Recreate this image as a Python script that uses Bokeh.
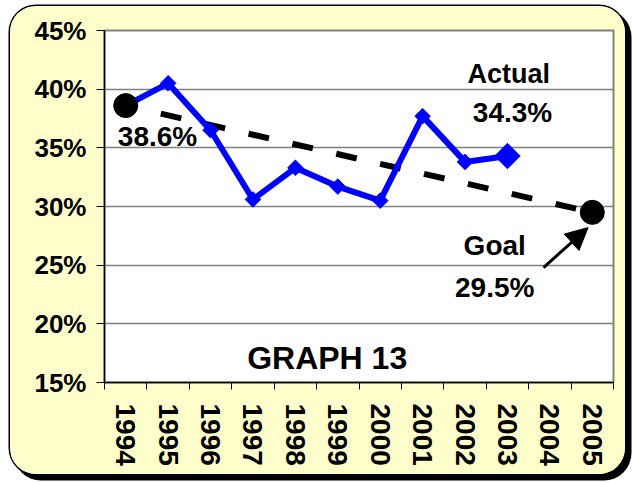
import math
from bokeh.plotting import figure
from bokeh.models import Range1d, FixedTicker, Arrow, NormalHead, ColumnDataSource
from bokeh.core.properties import value
from bokeh.embed import file_html
from bokeh.resources import INLINE

# ---- data ----
years = [1994, 1995, 1996, 1997, 1998, 1999, 2000, 2001, 2002, 2003]
actual = [38.6, 40.5, 36.5, 30.6, 33.3, 31.7, 30.5, 37.7, 33.8, 34.3]
axis_years = [1994, 1995, 1996, 1997, 1998, 1999, 2000, 2001, 2002, 2003, 2004, 2005]
y_ticks = [15, 20, 25, 30, 35, 40, 45]
y_tick_labels = ["15%", "20%", "25%", "30%", "35%", "40%", "45%"]
start_year = 1994
start_value = 38.6
goal_year = 2005
goal_value = 29.5
title_text = "GRAPH 13"

FONT = "Liberation Sans"

p = figure(width=615, height=468, output_backend="svg", toolbar_location=None,
           x_range=Range1d(axis_years[0] - 0.5, axis_years[-1] + 0.5),
           y_range=Range1d(y_ticks[0], y_ticks[-1]),
           min_border_left=94, min_border_right=12, min_border_top=24,
           min_border_bottom=92)
p.margin = (6, 0, 0, 10)
p.styles = {
    "border-radius": "26px",
    "overflow": "hidden",
    "box-shadow": "0 0 0 1.5px black, 5px 5px 0 1.5px black",
}
p.border_fill_color = "#FFFFCC"
p.background_fill_color = "white"
p.outline_line_color = "#808080"
p.outline_line_width = 2

# grid
p.xgrid.visible = False
p.ygrid.ticker = FixedTicker(ticks=y_ticks)
p.ygrid.grid_line_color = "#808080"
p.ygrid.grid_line_width = 1.5

# y axis
ya = p.yaxis[0]
ya.ticker = FixedTicker(ticks=y_ticks)
ya.major_label_overrides = {t: l for t, l in zip(y_ticks, y_tick_labels)}
ya.major_label_text_font = FONT
ya.major_label_text_font_style = "bold"
ya.major_label_text_font_size = "26px"
ya.major_label_text_color = "black"
ya.major_tick_out = 8
ya.major_tick_in = 0
ya.major_tick_line_color = "black"
ya.minor_tick_line_color = None
ya.axis_line_color = "black"
ya.axis_line_width = 1.5
ya.major_label_standoff = 10

# x axis: labels at year centres, tick marks between years
boundaries = [y - 0.5 for y in axis_years] + [axis_years[-1] + 0.5]
xa = p.xaxis[0]
xa.ticker = FixedTicker(ticks=axis_years, minor_ticks=boundaries)
xa.major_label_overrides = {y: str(y) for y in axis_years}
xa.major_label_orientation = "vertical"
xa.major_label_text_font = FONT
xa.major_label_text_font_style = "bold"
xa.major_label_text_font_size = "28px"
xa.major_label_text_color = "black"
xa.major_tick_out = 7
xa.major_tick_in = 0
xa.major_tick_line_color = None
xa.minor_tick_out = 7
xa.minor_tick_in = 0
xa.minor_tick_line_color = "black"
xa.minor_tick_line_width = 1
xa.axis_line_color = "black"
xa.axis_line_width = 1.5
xa.major_label_standoff = 14

# trend line (dashed) from start to goal
p.line([start_year, goal_year], [start_value, goal_value], line_color="black",
       line_width=6, line_dash="21 24", line_dash_offset=9)

# actual series
p.line(years, actual, line_color="#0000FF", line_width=6)
p.scatter(years[1:-1], actual[1:-1], marker="square", size=11, angle=math.pi / 4,
          fill_color="#0000FF", line_color="#0000FF")
p.scatter([years[-1]], [actual[-1]], marker="square", size=18, angle=math.pi / 4,
          fill_color="#0000FF", line_color="#0000FF")

# start / goal dots
p.scatter([start_year, goal_year], [start_value, goal_value], marker="circle",
          size=24, fill_color="black", line_color="black")

# arrow pointing at the goal
p.add_layout(Arrow(x_start=goal_year - 1.15, y_start=goal_value - 4.7,
                   x_end=goal_year - 0.1, y_end=goal_value - 1.3,
                   line_color="black", line_width=3,
                   end=NormalHead(size=22, fill_color="black", line_color="black")))

# labels
lab = ColumnDataSource(dict(
    x=[start_year + 0.75, years[-1] + 0.03, years[-1] + 0.12,
       goal_year - 2.3, goal_year - 2.3, 1998.75],
    y=[start_value - 2.63, 41.26, 38.0, 26.68, 23.1, 17.13],
    t=[f"{start_value}%", "Actual", f"{actual[-1]}%", "Goal", f"{goal_value}%", title_text],
    s=["28px", "27px", "28px", "28px", "28px", "32px"],
))
p.text(x="x", y="y", text="t", source=lab, text_font=value(FONT),
       text_font_style="bold", text_font_size="s", text_color="black",
       text_align="center", text_baseline="middle")

open("out.html", "w").write(file_html(p, INLINE))
